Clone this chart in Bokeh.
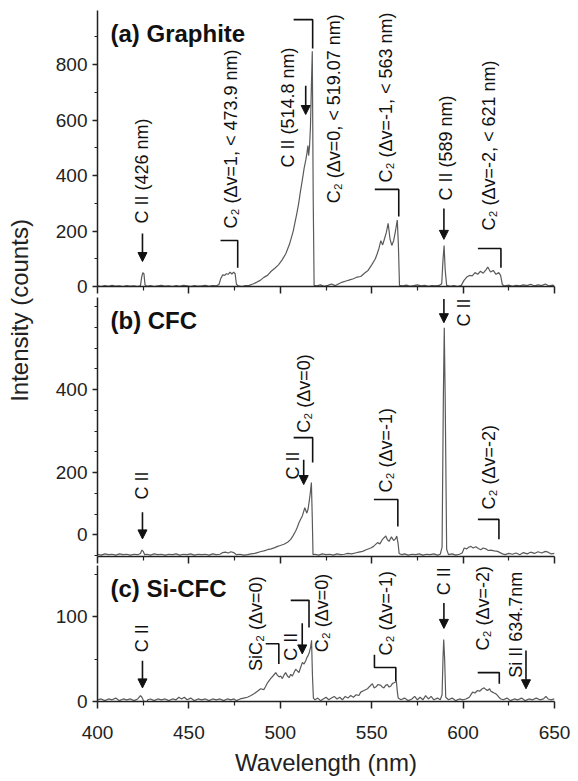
import math
from bokeh.plotting import figure
from bokeh.models import Range1d, FixedTicker, Arrow, NormalHead
from bokeh.layouts import column, row
from bokeh.core.properties import value
from bokeh.embed import file_html
from bokeh.resources import INLINE

FONT = "Liberation Sans"
LINE_COLOR = "#5a5a5a"

# ---------------- data ----------------
x_major = [400, 450, 500, 550, 600, 650]
x_minor = [425, 475, 525, 575, 625]

# (a) Graphite
wl_a = [400, 402, 404, 406, 408, 410, 412, 414, 416, 418, 420, 422, 423.5, 424.2, 424.8, 425.4, 426.0, 427, 429, 431,
        433, 435, 437, 439, 441, 443, 445, 447, 449, 451, 453, 455, 457, 459, 461, 463, 465, 466.5, 467.5, 468.5,
        469.5, 470.5, 471.5, 472.5, 473.5, 474.5, 475.3, 476.0, 477, 479, 481, 483, 485, 487, 489, 491, 493, 495,
        497, 499, 501, 503, 505, 507, 509, 510, 511, 512, 513, 514, 514.6, 515.1, 515.5, 516.0, 516.5, 517.0,
        517.5, 518.0, 518.5, 520, 522, 524, 526, 528, 530, 532, 534, 536, 538, 540, 542, 544, 546, 548, 550, 552,
        553, 554, 555, 556, 557, 558, 559, 560, 561, 562, 563, 564, 564.6, 565.2, 567, 569, 571, 573, 575, 577,
        579, 581, 583, 585, 587, 588.3, 589.0, 589.6, 590.2, 591, 593, 595, 597, 599, 600.5, 602, 603.5, 605,
        606.5, 608, 609.5, 611, 612.5, 613.5, 615, 616.5, 618, 619.5, 620.5, 621.5, 623, 625, 627, 629, 631, 633,
        635, 637, 639, 641, 643, 645, 647, 649, 650]
int_a = [2, 0, 3, 1, 4, 1, 2, 0, 3, 1, 2, 0, 3, 35, 50, 46, 6, 1, 3, 0,
         2, 4, 1, 2, 0, 3, 1, 4, 2, 0, 3, 1, 2, 4, 1, 3, 2, 8, 30, 42,
         40, 46, 44, 52, 45, 52, 46, 8, 2, 0, 3, 4, 9, 15, 22, 33, 40, 55,
         66, 78, 96, 118, 152, 198, 262, 298, 342, 382, 425, 458, 482, 508, 472, 505, 575, 720,
         848, 320, 4, 2, 6, 1, 4, 9, 3, 10, 16, 20, 24, 28, 34, 36, 48, 58, 78, 100,
         118, 138, 165, 150, 172, 195, 228, 172, 148, 165, 200, 240, 150, 4, 2, 5, 1, 3, 6, 2,
         4, 1, 3, 2, 4, 10, 95, 148, 60, 4, 1, 3, 0, 4, 22, 34, 40, 38,
         50, 44, 55, 48, 60, 70, 52, 58, 44, 50, 40, 6, 2, 5, 1, 4, 2, 6,
         3, 8, 2, 6, 3, 9, 2, 5, 2]

# (b) CFC
wl_b = [400, 402, 404, 406, 408, 410, 412, 414, 416, 418, 420, 422, 423.5, 424.3, 425.0, 425.8, 427, 429, 431, 433,
        435, 437, 439, 441, 443, 445, 447, 449, 451, 453, 455, 457, 459, 461, 463, 465, 467, 468.5, 470, 471.5,
        473, 474.5, 476, 478, 480, 482, 484, 486, 487.5, 489, 491, 493, 495, 497, 498.5, 500, 502, 504, 505.7,
        507, 508.4, 509.3, 510.2, 511.2, 512.1, 513.4, 514.5, 515.2, 515.7, 516.4, 517.0, 517.5, 517.9, 519,
        521, 523, 525, 527, 529, 531, 533, 535, 537, 539, 541, 543, 545, 547, 549.5, 551, 553.2, 554.5, 555.9,
        557.7, 558.6, 559.5, 560.8, 562, 563, 563.7, 564.4, 565, 566.5, 568, 570, 572, 574, 576, 578, 580, 582,
        584, 586, 587.5, 588.5, 589.2, 589.7, 590.2, 591, 592, 594, 596, 598, 599.5, 600.6, 602, 603, 604.3,
        605.5, 607, 608.3, 609.7, 611, 612.4, 613.8, 615.2, 617, 618.9, 620.2, 621.6, 623, 625, 627, 629, 631,
        633, 635, 637, 639, 641, 643, 645, 646.5, 648, 650]
int_b = [3, 1, 4, 2, 3, 1, 4, 2, 3, 1, 3, 2, 5, 13, 10, 2, 3, 1, 4, 2,
         3, 1, 3, 2, 4, 1, 3, 2, 4, 1, 3, 2, 3, 1, 4, 2, 3, 7, 8, 6,
         9, 7, 2, 3, 1, 2, 4, 5, 7, 9, 11, 14, 16, 19, 22, 24, 27, 32, 39,
         48, 59, 68, 79, 88, 96, 115, 102, 112, 127, 150, 176, 90, 2, 3,
         1, 4, 2, 3, 1, 4, 2, 3, 5, 4, 6, 8, 10, 14, 18, 22, 31, 28, 39,
         47, 38, 34, 45, 36, 40, 47, 30, 5, 2, 4, 1, 3, 2, 4, 1, 3, 2,
         4, 1, 3, 20, 380, 549, 380, 15, 2, 4, 1, 3, 6, 18, 16, 20, 22,
         18, 21, 17, 14, 18, 16, 12, 13, 11, 10, 7, 4, 2, 5, 3, 6, 2,
         7, 4, 8, 5, 9, 6, 10, 8, 4, 5]

# (c) Si-CFC
wl_c = [400, 402, 404, 406, 408, 410, 412, 414, 416, 418, 420, 422, 423.5, 424.3, 425.2, 426.5, 427.5, 429, 431, 433,
        435, 437, 439, 441, 443, 444.5, 446, 447.5, 449, 451, 453, 455, 457, 459, 461, 463, 465, 467, 469, 471,
        473, 474.7, 476, 478, 480, 482, 484, 485.6, 487.5, 489.3, 491, 491.8, 493, 494.7, 496, 497.5, 498.4,
        499.3, 500.2, 501.1, 502, 502.9, 503.9, 504.8, 505.7, 506.6, 507.5, 508.4, 509.3, 510.2, 511.1, 512.1,
        513, 513.9, 514.6, 515.2, 515.9, 516.6, 517.1, 517.6, 518.1, 519, 520.5, 522, 523.5, 525, 526.5, 528,
        529.5, 531, 532.5, 534, 535.5, 537, 538.5, 540, 541.5, 543, 544, 545.8, 547.7, 549, 550.4, 551.3, 552.2,
        553.5, 555, 555.8, 556.7, 557.6, 558.6, 559.5, 560.4, 561.3, 562.2, 563, 563.5, 564, 564.5, 566, 568,
        570, 572, 573.5, 575, 576.5, 578, 579.5, 581, 582.5, 584, 586, 587.5, 588.5, 589.0, 589.4, 589.9, 590.5,
        592, 594, 596, 598, 600, 601.5, 602.5, 603.4, 604.3, 605.2, 606.5, 607.9, 609, 610.5, 611.5, 612.5,
        613.4, 614.5, 615.2, 616.1, 617, 618, 618.9, 620, 620.7, 622, 624, 626, 628, 630, 632, 634, 636, 638,
        640, 642, 644, 645.3, 646.5, 648, 650]
int_c = [2, 3, 1, 3, 2, 4, 1, 3, 2, 3, 1, 3, 7, 5, 1, -3, 2, 3, 1, 3,
         2, 3, 1, 3, 2, 5, 3, 5, 2, 4, 1, 3, 2, 3, 1, 3, 2, 3, 1, 3,
         2, 3, 1, 3, 4, 5, 7, 9, 12, 15, 14, 17, 22, 27, 30, 34, 31,
         29, 30, 27, 31, 34, 30, 28, 32, 30, 34, 38, 36, 34, 40, 46,
         44, 48, 52, 54, 58, 64, 72, 30, 4, 2, 4, 1, 3, 5, 2, 4,
         6, 3, 5, 2, 6, 4, 7, 5, 8, 7, 11, 13, 15, 18, 21, 16, 17,
         20, 19, 17, 16, 19, 20, 17, 18, 21, 22, 23, 24, 12, 4, 2, 4,
         1, 3, 6, 2, 5, 2, 7, 3, 6, 2, 4, 2, 8, 50, 73, 50, 5,
         2, 4, 1, 3, 2, 3, 4, 5, 8, 11, 10, 13, 12, 15, 16, 14,
         13, 15, 12, 11, 10, 9, 7, 4, 3, 2, 4, 1, 3, 2, 4, 1, 3, 2,
         4, 2, 3, 6, 3, 2, 3]

# ---------------- annotations (wavelength, intensity) ----------------
ann_a = dict(
    title=(407.1, 912, "(a) Graphite"),
    texts=[(424.6, 227, "C II (426 nm)"), (472.8, 209, "C\u2082 (\u0394v=1, < 473.9 nm)"),
           (504.0, 429, "C II (514.8 nm)"), (529.2, 300, "C\u2082 (\u0394v=0, < 519.07 nm)"),
           (557.7, 375, "C\u2082 (\u0394v=-1, < 563 nm)"), (590.6, 310, "C II (589 nm)"),
           (614.1, 202, "C\u2082 (\u0394v=-2, < 621 nm)")],
    arrows=[(424.6, 191, 90), (513.9, 724, 620), (589.5, 281, 170)],
    brackets=[([467.3, 476.7, 476.7], [166, 166, 68]), ([507.3, 517.7, 517.7], [962, 962, 858]),
              ([551.7, 564.8, 564.8], [350, 350, 252]), ([608.1, 620.7, 620.7], [137, 137, 68])],
)
ann_b = dict(
    title=(407.1, 566, "(b) CFC"),
    texts=[(424.6, 135, "C II"), (506.8, 183, "C II"), (512.8, 296, "C\u2082 (\u0394v=0)"),
           (557.7, 152, "C\u2082 (\u0394v=-1)"), (600.4, 552, "C II"), (614.1, 111, "C\u2082 (\u0394v=-2)")],
    arrows=[(424.6, 104, 40), (512.8, 231, 171), (589.5, 618, 561)],
    brackets=[([507.3, 517.7, 517.7], [284, 284, 224]), ([551.2, 564.3, 564.3], [135, 135, 70]),
              ([608.1, 619.6, 619.6], [87, 87, 39])],
)
ann_c = dict(
    title=(407.1, 133, "(c) Si-CFC"),
    texts=[(424.6, 58, "C II"), (486.5, 36, "SiC\u2082 (\u0394v=0)"), (505.7, 48, "C II"),
           (523.0, 58, "C\u2082 (\u0394v=0)"), (557.7, 54, "C\u2082 (\u0394v=-1)"), (589.5, 125, "C II"),
           (610.7, 60, "C\u2082 (\u0394v=-2)"), (629.0, 28, "Si II 634.7nm")],
    arrows=[(424.6, 48, 16), (512.0, 92, 56), (589.5, 116, 86), (634.4, 60, 15)],
    brackets=[([492.0, 499.2, 499.2], [68, 68, 44]), ([505.7, 515.7, 515.7], [119, 119, 87]),
              ([551.5, 551.5, 563.2, 563.2], [55, 40, 40, 24]), ([608.0, 619.8, 619.8], [34, 34, 21])],
)

LEFT_W = 38
PANEL_W = 538


def make_panel(height, yr, top, bottom, yticks, yminor, overrides, wl, inten, ann, show_x):
    p = figure(width=PANEL_W, height=height, x_range=Range1d(400, 650), y_range=Range1d(*yr),
               output_backend="svg", toolbar_location=None, min_border=0,
               min_border_left=97 - LEFT_W, min_border_right=LEFT_W + PANEL_W - 554,
               min_border_top=top, min_border_bottom=bottom)
    p.outline_line_color = None
    p.grid.visible = False
    p.background_fill_color = "white"

    xa = p.xaxis[0]
    xa.ticker = FixedTicker(ticks=x_major, minor_ticks=x_minor)
    xa.axis_line_width = 1.5
    xa.axis_line_color = "#222222"
    xa.major_tick_line_color = "#222222"
    xa.minor_tick_line_color = "#222222"
    xa.major_tick_line_width = 1.5
    xa.minor_tick_line_width = 1.2
    xa.major_tick_in = 0
    xa.major_tick_out = 7
    xa.minor_tick_in = 0
    xa.minor_tick_out = 4
    if show_x:
        xa.major_label_text_font = FONT
        xa.major_label_text_font_size = "19px"
        xa.major_label_text_color = "#222222"
        xa.major_label_standoff = 17
        xa.axis_label = "Wavelength (nm)"
        xa.axis_label_text_font = FONT
        xa.axis_label_text_font_size = "24px"
        xa.axis_label_text_font_style = "normal"
        xa.axis_label_text_color = "#222222"
        xa.axis_label_standoff = 7
    else:
        xa.major_label_overrides = {t: "" for t in x_major}
        xa.major_label_standoff = 0

    ya = p.yaxis[0]
    ya.ticker = FixedTicker(ticks=yticks, minor_ticks=yminor)
    if overrides:
        ya.major_label_overrides = overrides
    ya.axis_line_width = 1.5
    ya.axis_line_color = "#222222"
    ya.major_tick_line_color = "#222222"
    ya.minor_tick_line_color = "#222222"
    ya.major_tick_line_width = 1.5
    ya.minor_tick_line_width = 1.2
    ya.major_tick_in = 0
    ya.major_tick_out = 5
    ya.minor_tick_in = 0
    ya.minor_tick_out = 3
    ya.major_label_text_font = FONT
    ya.major_label_text_font_size = "19px"
    ya.major_label_text_color = "#222222"
    ya.major_label_standoff = 5

    p.line(wl, inten, line_color=LINE_COLOR, line_width=1.2)

    tx, ty, tt = ann["title"]
    p.text(x=[tx], y=[ty], text=[tt], text_font=value(FONT), text_font_size=value("24px"),
           text_font_style="bold", text_color="#111111", text_align="left", text_baseline="alphabetic")

    p.text(x=[t[0] for t in ann["texts"]], y=[t[1] for t in ann["texts"]], text=[t[2] for t in ann["texts"]],
           angle=math.pi / 2, text_align="left", text_baseline="middle",
           text_font=value(FONT), text_font_size=value("18px"), text_color="#111111")

    for (ax, y0, y1) in ann["arrows"]:
        p.add_layout(Arrow(end=NormalHead(size=9, fill_color="#111111", line_color="#111111", line_width=1),
                           x_start=ax, y_start=y0, x_end=ax, y_end=y1,
                           line_color="#111111", line_width=1.6))

    p.multi_line(xs=[b[0] for b in ann["brackets"]], ys=[b[1] for b in ann["brackets"]],
                 line_color="#111111", line_width=1.6)
    return p


# frames: (a) 10..286, (b) 297..556, (c) 565..701 (page pixels)
fa = make_panel(297, (0, 995), 10, 11, [0, 200, 400, 600, 800], [100, 300, 500, 700, 900], None,
                wl_a, int_a, ann_a, False)
fb = make_panel(268, (-2.4, 621.7), 0, 9, [50, 200, 400], [0, 100, 150, 250, 300, 350, 450, 500, 550, 600],
                {50: "0"}, wl_b, int_b, ann_b, False)
fc = make_panel(215, (0, 160), 0, 79, [0, 100], [50, 150], None, wl_c, int_c, ann_c, True)

TOTAL_H = 297 + 268 + 215
lf = figure(width=LEFT_W, height=TOTAL_H, x_range=Range1d(0, LEFT_W), y_range=Range1d(TOTAL_H, 0),
            output_backend="svg", toolbar_location=None, min_border=0,
            x_axis_type=None, y_axis_type=None)
lf.outline_line_color = None
lf.grid.visible = False
lf.text(x=[19], y=[310], text=["Intensity (counts)"], angle=math.pi / 2, text_align="center",
        text_baseline="middle", text_font=value(FONT), text_font_size=value("24px"), text_color="#222222")

layout = row(lf, column(fa, fb, fc))
open("out.html", "w").write(file_html(layout, INLINE))
